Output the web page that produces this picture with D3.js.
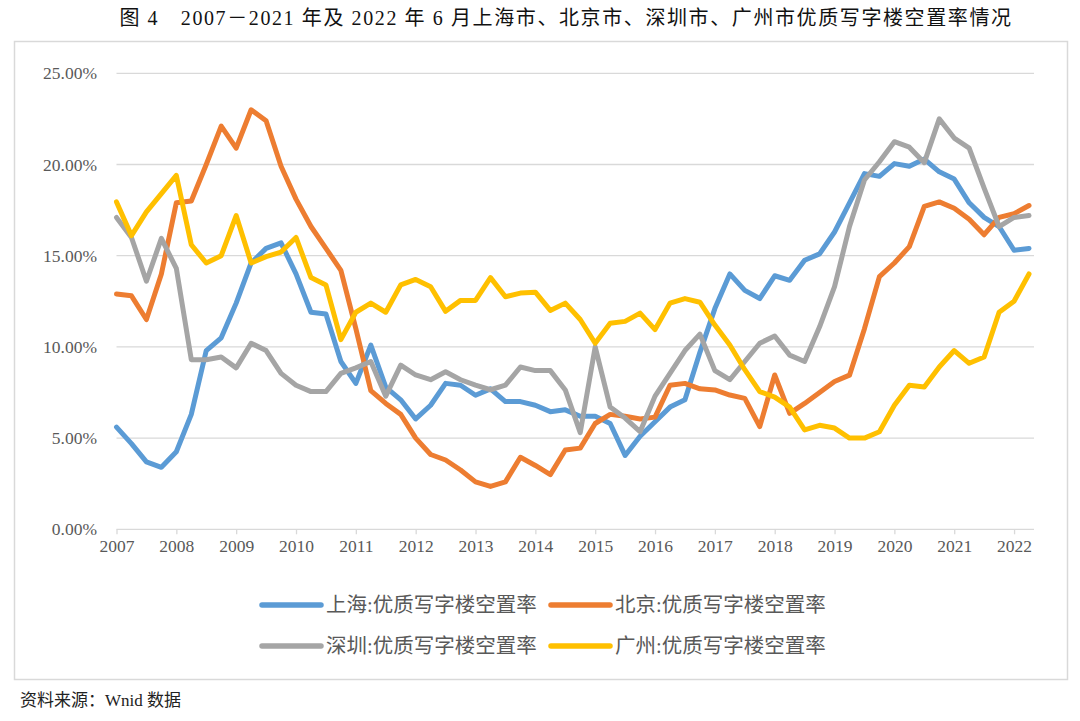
<!DOCTYPE html>
<html>
<head>
<meta charset="utf-8">
<script src="https://cdn.jsdelivr.net/npm/d3@7"></script>
<style>
  html, body { margin: 0; padding: 0; background: #fff; }
  svg { display: block; }
</style>
</head>
<body>
<svg id="chart" width="1080" height="721"></svg>
<script>
// ---- data (quarterly, 2007Q1 – 2022Q2) ----
const yearTicks = [2007,2008,2009,2010,2011,2012,2013,2014,2015,2016,2017,2018,2019,2020,2021,2022];
const yTicks = [0, 5, 10, 15, 20, 25];
const seriesNames = ["上海:优质写字楼空置率", "北京:优质写字楼空置率", "深圳:优质写字楼空置率", "广州:优质写字楼空置率"];

const shanghai = [5.6,4.7,3.7,3.4,4.25,6.3,9.8,10.5,12.4,14.6,15.4,15.7,14.0,11.9,11.8,9.2,8.0,10.1,7.8,7.1,
  6.05,6.8,8.0,7.9,7.35,7.7,7.0,7.0,6.8,6.45,6.55,6.2,6.2,5.8,4.05,5.1,5.9,6.7,7.1,9.7,
  12.1,14.0,13.1,12.65,13.9,13.65,14.75,15.1,16.3,17.9,19.5,19.35,20.05,19.9,20.3,19.6,19.2,17.9,17.1,16.6,
  15.3,15.4];
const beijing = [12.9,12.8,11.5,14.0,17.9,18.0,20.0,22.1,20.9,23.0,22.4,19.9,18.1,16.6,15.4,14.2,11.0,7.6,6.9,6.3,
  5.0,4.1,3.8,3.25,2.6,2.35,2.6,3.95,3.5,3.0,4.35,4.45,5.8,6.3,6.2,6.05,6.15,7.9,8.0,7.7,
  7.64,7.36,7.18,5.63,8.46,6.36,6.9,7.5,8.1,8.45,11.0,13.85,14.6,15.5,17.7,17.95,17.6,17.0,16.15,17.1,
  17.3,17.75];
const shenzhen = [17.1,16.0,13.6,15.95,14.3,9.3,9.3,9.45,8.85,10.2,9.8,8.55,7.9,7.55,7.55,8.55,8.85,9.2,7.3,9.0,
  8.46,8.2,8.64,8.2,7.9,7.65,7.9,8.9,8.7,8.7,7.64,5.3,10.0,6.7,6.1,5.35,7.3,8.55,9.8,10.7,
  8.7,8.2,9.2,10.2,10.6,9.55,9.2,11.1,13.3,16.6,19.15,20.15,21.25,20.95,20.1,22.5,21.45,20.9,18.7,16.6,
  17.1,17.2];
const guangzhou = [17.95,16.1,17.4,18.4,19.4,15.6,14.6,15.0,17.2,14.6,14.95,15.2,16.0,13.8,13.4,10.4,11.9,12.4,11.9,13.4,
  13.7,13.3,11.95,12.55,12.55,13.8,12.75,12.95,13.0,12.0,12.4,11.5,10.2,11.3,11.4,11.85,10.95,12.4,12.65,12.45,
  11.2,10.1,8.75,7.55,7.25,6.7,5.45,5.7,5.55,5.0,5.0,5.35,6.8,7.9,7.8,8.9,9.8,9.1,9.45,11.9,
  12.5,14.0];

// period positions (year + quarter offset)
const periods = [];
for (let y = 2007; y <= 2022; y++) for (let q = 0; q < 4; q++) periods.push(y + q / 4);
periods.length = shanghai.length;

const colors = ["#5B9BD5", "#ED7D31", "#A5A5A5", "#FFC000"];
const allSeries = [shanghai, beijing, shenzhen, guangzhou];

// ---- drawing ----
const svg = d3.select("#chart");
const serif = "'Liberation Serif','Times New Roman','Noto Sans CJK SC',serif";

svg.append("text")
  .attr("x", 566).attr("y", 25)
  .attr("text-anchor", "middle")
  .attr("font-family", serif)
  .attr("font-size", 20)
  .attr("letter-spacing", 1.6)
  .attr("fill", "#111")
  .text("图 4　2007－2021 年及 2022 年 6 月上海市、北京市、深圳市、广州市优质写字楼空置率情况");

svg.append("rect")
  .attr("x", 14.5).attr("y", 41.5).attr("width", 1053).attr("height", 638)
  .attr("fill", "none").attr("stroke", "#d9d9d9").attr("stroke-width", 1.5);

const x = d3.scaleLinear().domain([2007, 2022 + 1/3]).range([116.5, 1034]);
const y = d3.scaleLinear().domain([0, 25]).range([529.3, 73.3]);

// gridlines
svg.append("g").selectAll("line").data(yTicks.filter(d => d > 0)).join("line")
  .attr("x1", 116.5).attr("x2", 1034)
  .attr("y1", d => y(d)).attr("y2", d => y(d))
  .attr("stroke", "#d9d9d9").attr("stroke-width", 1.3);

// y axis labels
const yAxis = d3.axisLeft(y).tickValues(yTicks).tickSize(0).tickPadding(0)
  .tickFormat(d => d.toFixed(2) + "%");
const gy = svg.append("g").attr("transform", "translate(97,0)").call(yAxis);
gy.select(".domain").remove();
gy.selectAll("text").attr("font-family", serif).attr("font-size", 17.5).attr("fill", "#595959");

// x axis
const xAxis = d3.axisBottom(x).tickValues(yearTicks).tickSize(5).tickPadding(5).tickFormat(d3.format("d"));
const gx = svg.append("g").attr("transform", "translate(0,529.3)").call(xAxis);
gx.select(".domain").attr("stroke", "#d9d9d9").attr("stroke-width", 1.3).attr("d", "M116.5,0H1034");
gx.selectAll(".tick line").attr("stroke", "#d9d9d9").attr("stroke-width", 1.3);
gx.selectAll("text").attr("font-family", serif).attr("font-size", 17.5).attr("fill", "#595959");

// lines
const line = d3.line().x((d, i) => x(periods[i])).y(d => y(d));
svg.append("g").selectAll("path").data(allSeries).join("path")
  .attr("d", d => line(d))
  .attr("fill", "none")
  .attr("stroke", (d, i) => colors[i])
  .attr("stroke-width", 5)
  .attr("stroke-linejoin", "round")
  .attr("stroke-linecap", "round");

// legend
const legendPos = [[262, 605], [551, 605], [262, 646], [551, 646]];
const lg = svg.append("g").selectAll("g").data(seriesNames).join("g")
  .attr("transform", (d, i) => `translate(${legendPos[i][0]},${legendPos[i][1]})`);
lg.append("line").attr("x1", 0).attr("x2", 59).attr("y1", 0).attr("y2", 0)
  .attr("stroke", (d, i) => colors[i]).attr("stroke-width", 5.5).attr("stroke-linecap", "round");
lg.append("text").attr("x", 64).attr("y", 7)
  .attr("font-family", serif).attr("font-size", 20.5).attr("fill", "#595959")
  .text(d => d);

// source
svg.append("text").attr("x", 20).attr("y", 706)
  .attr("font-family", serif).attr("font-size", 17).attr("fill", "#222")
  .text("资料来源：Wnid 数据");
</script>
</body>
</html>
